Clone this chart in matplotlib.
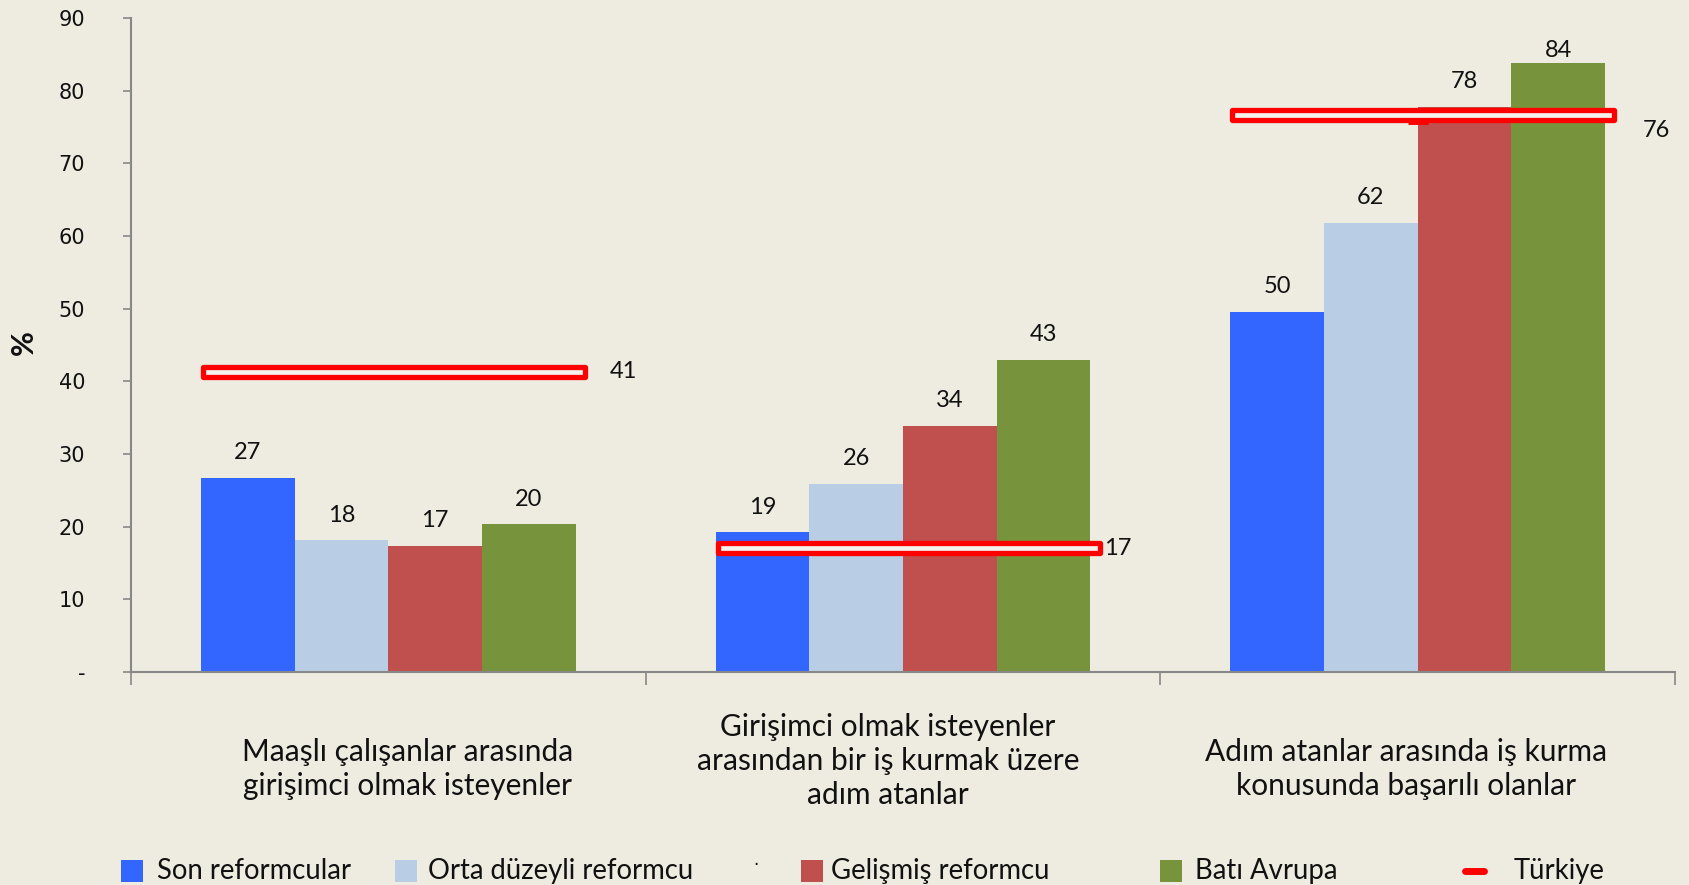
import numpy as np
import matplotlib.pyplot as plt
import matplotlib.transforms as mtransforms
from matplotlib.patches import Rectangle
from matplotlib.lines import Line2D

categories = [
    "Maaşlı çalışanlar arasında\ngirişimci olmak isteyenler",
    "Girişimci olmak isteyenler\narasından bir iş kurmak üzere\nadım atanlar",
    "Adım atanlar arasında iş kurma\nkonusunda başarılı olanlar",
]
series_names = ["Son reformcular", "Orta düzeyli reformcu", "Gelişmiş reformcu", "Batı Avrupa"]
son = [26.7, 19.2, 49.6]
orta = [18.1, 25.9, 61.8]
gelismis = [17.4, 33.9, 77.8]
bati = [20.3, 43.0, 83.8]
turkiye = [41, 17, 76]
yticks = [0, 10, 20, 30, 40, 50, 60, 70, 80, 90]
ytick_labels = ["-", "10", "20", "30", "40", "50", "60", "70", "80", "90"]

colors = ["#3366FF", "#B9CDE5", "#C0504D", "#77933C"]
bg = "#EEEBE0"
font = ["Lato", "DejaVu Sans"]

fig = plt.figure(figsize=(16.89, 8.85), dpi=100, facecolor=bg)
ax = fig.add_axes([131/1689, 1 - 672/885, (1675-131)/1689, (672-18)/885])
ax.set_facecolor(bg)

x = np.arange(len(categories))
w = 0.182
for i, vals in enumerate([son, orta, gelismis, bati]):
    xs = x + (i - 1.5) * w
    ax.bar(xs, vals, width=w, color=colors[i], edgecolor="none", zorder=2)
    for xi, v in zip(xs, vals):
        ax.text(xi, min(v + 2.6, 84.7), f"{round(v):d}", ha="center", va="baseline",
                fontsize=17, family=font, color="#111111")

# Türkiye: marker at the centre plus an outlined bar across the group
rect_dy = [0.3, 0.1, 0.7]
for xi, v, dy in zip(x, turkiye, rect_dy):
    ax.plot(xi, v - 0.15, marker="_", ms=15, mew=5, color="#FF0000", zorder=3)
    rect = Rectangle((xi - 0.36, v + dy - 0.68), 0.742, 1.36,
                     facecolor="#F4F2EC", edgecolor="#FF0000", lw=3.8,
                     joinstyle="round", zorder=4)
    ax.add_patch(rect)
lab_dx = [0.457, 0.418, 0.463]
lab_dy = [0.3, 0.0, -1.5]
for xi, v, dx, dy in zip(x, turkiye, lab_dx, lab_dy):
    ax.text(xi + dx, v + dy, str(v), ha="center", va="center", fontsize=17,
            family=font, color="#111111")

ax.set_xlim(-0.5, 2.5)
ax.set_ylim(0, 90)
ax.set_yticks(yticks)
ax.set_yticklabels(ytick_labels, fontsize=15, family="DejaVu Sans", color="#111111")
ax.tick_params(axis="y", length=6, width=1.2, color="#888888", pad=27)
ax.set_xticks([-0.5, 0.5, 1.5, 2.5])
ax.set_xticklabels([])
ax.tick_params(axis="x", length=9, width=1.2, color="#888888", direction="out")
for s in ["top", "right"]:
    ax.spines[s].set_visible(False)
for s in ["left", "bottom"]:
    ax.spines[s].set_color("#888888")
    ax.spines[s].set_linewidth(1.5)

trans = mtransforms.blended_transform_factory(ax.transData, fig.transFigure)
cat_dx = [0.038, -0.029, -0.023]
for xi, cat, dx in zip(x, categories, cat_dx):
    yc = 769 if cat.count("\n") == 1 else 761
    ax.text(xi + dx, 1 - yc/885, cat, transform=trans, ha="center", va="center",
            fontsize=21.5, family=font, linespacing=1.26, color="#111111")

fig.text(24/1689, 1 - 343/885, "%", rotation=90, ha="center", va="center",
         fontsize=22, fontweight="bold", family=font, color="#111111")

# legend along the bottom
leg_y = 1 - 871/885
sq_x = [112, 367, 744, 1077]
txt_x = [146, 397, 772, 1110]
for sx, tx, c, name in zip(sq_x, txt_x, colors, series_names):
    fig.patches.append(Rectangle((sx*1.077/1689, leg_y - 11/885), 22/1689, 22/885,
                                 transform=fig.transFigure, facecolor=c, edgecolor="none"))
    fig.text(tx*1.077/1689, leg_y, name, ha="left", va="center", fontsize=19.8,
             family=font, color="#111111")
fig.text(702*1.077/1689, leg_y + 6/885, "·", ha="center", va="center", fontsize=12,
         color="#111111")
fig.lines.append(Line2D([1360*1.077/1689, 1378*1.077/1689], [leg_y, leg_y],
                        transform=fig.transFigure, color="#FF0000", lw=5,
                        solid_capstyle="round"))
fig.text(1405*1.077/1689, leg_y, "Türkiye", ha="left", va="center", fontsize=19.8,
         family=font, color="#111111")

fig.savefig("out.png", dpi=100, facecolor=bg)
